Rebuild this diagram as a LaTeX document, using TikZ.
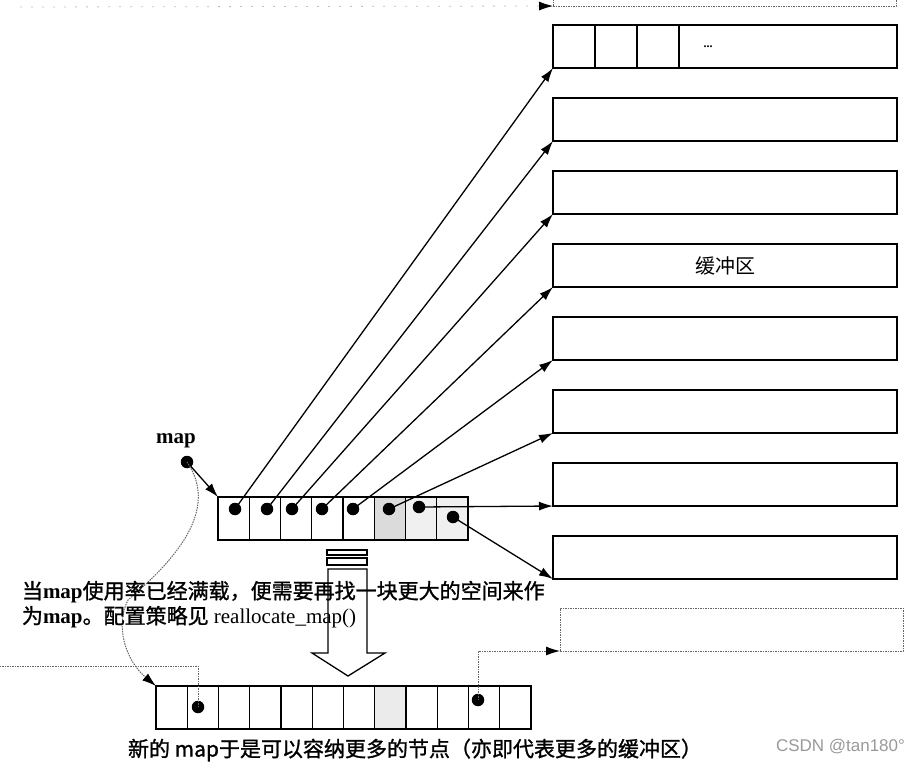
\documentclass[tikz,border=0pt]{standalone}
\usepackage{fontspec}
\setmainfont{Liberation Serif}
\newfontfamily\cj{Noto Sans CJK SC}
\newfontfamily\cjb[FakeBold=1.2]{Noto Sans CJK SC}
\newfontfamily\wmfont{Liberation Sans}
\usetikzlibrary{arrows.meta,calc}
\begin{document}
\begin{tikzpicture}[x=1pt,y=-1pt,
  every node/.style={inner sep=0pt,outer sep=0pt},
  solid line/.style={line width=1.5pt},
  buf/.style={draw,line width=1.5pt,minimum width=344pt,minimum height=43pt,anchor=north west},
  dbuf/.style={draw=black!60,line width=1pt,dash pattern=on 1.5pt off 1pt,minimum width=343pt,minimum height=43pt,anchor=north west},
  cellbox/.style={draw,line width=1.4pt,minimum width=31.25pt,minimum height=43pt,anchor=north west},
  dotmark/.style={circle,fill=black,minimum size=12.5pt},
  arr/.style={line width=1.3pt,-{Latex[length=14pt,width=9pt]}},
  dotline/.style={draw=black!60,line width=1pt,dash pattern=on 1.5pt off 1pt},
  dotarr/.style={dotline,-{Latex[length=14pt,width=9pt,color=black]}},
  txt/.style={font=\fontsize{21}{21}\selectfont,anchor=west},
]
\useasboundingbox (0,0) rectangle (908,764);
\begin{scope}
\clip (0,0) rectangle (908,764);
% top dotted buffer and faint pointer
\node[dbuf] (b0) at (553,-37) {};
\coordinate (topleft) at (20,7);
\draw[draw=black!25,line width=0.8pt,dash pattern=on 2pt off 9pt,-{Latex[length=14pt,width=9pt,color=black]}] (topleft) -- (b0.south west);
\end{scope}

% buffers
\node[buf] (b1) at (553,25) {};
\foreach \dx in {42,84,126}{\draw[solid line] ([xshift=\dx pt]b1.north west) -- ([xshift=\dx pt]b1.south west);}
\node[font=\bfseries\fontsize{12}{12}\selectfont] (ell) at (708,47) {...};
\node[buf] (b2) at (553,98) {};
\node[buf] (b3) at (553,171) {};
\node[buf,font=\cj\fontsize{20}{20}\selectfont] (b4) at (553,244) {缓冲区};
\node[buf] (b5) at (553,317) {};
\node[buf] (b6) at (553,390) {};
\node[buf] (b7) at (553,463) {};
\node[buf] (b8) at (553,536) {};
\node[dbuf] (b9) at (560,608) {};

% map array
\foreach \i/\f in {1/white,2/white,3/white,4/white,5/white,6/black!14,7/black!6,8/black!6}{
  \node[cellbox,fill=\f] (m\i) at ({218+31.25*(\i-1)},497) {};
}
\node[dotmark] (d1) at (235,509) {};
\node[dotmark] (d2) at (267,509) {};
\node[dotmark] (d3) at (292,509) {};
\node[dotmark] (d4) at (322,509) {};
\node[dotmark] (d5) at (353,509) {};
\node[dotmark] (d6) at (389,509) {};
\node[dotmark] (d7) at (419,507) {};
\node[dotmark] (d8) at (453,517) {};
\draw[arr] (d1.center) -- (b1.south west);
\draw[arr] (d2.center) -- (b2.south west);
\draw[arr] (d3.center) -- (b3.south west);
\draw[arr] (d4.center) -- (b4.south west);
\draw[arr] (d5.center) -- (b5.south west);
\draw[arr] (d6.center) -- (b6.south west);
\draw[arr] (d7.center) -- (b7.south west);
\draw[arr] (d8.center) -- (b8.south west);

% map label
\node[font=\bfseries\fontsize{21}{21}\selectfont] (maplabel) at (176,441) {map};
\node[dotmark] (mapdot) at (187,462) {};
\draw[arr] (mapdot.center) -- (m1.north west);

% new map array
\foreach \i/\f in {1/white,2/white,3/white,4/white,5/white,6/white,7/white,8/black!8,9/white,10/white,11/white,12/white}{
  \node[cellbox,fill=\f] (n\i) at ({156+31.25*(\i-1)},686) {};
}
\node[dotmark] (e2) at (198,707) {};
\node[dotmark] (e11) at (478,700) {};
\coordinate (leftend) at (0,666);
\draw[dotline] (e2.center) |- (leftend);
\draw[dotarr] (e11.center) |- (b9.south west);

% curved dotted arrow
\draw[dotarr] (mapdot.center) .. controls (220,510) and (175,560) .. (128,600)
  .. controls (115,625) and (125,660) .. (n1.north west);

% big down arrow
\draw[line width=1.3pt] (327,550) rectangle (367,555);
\draw[line width=1.3pt] (327,558) rectangle (367,565);
\draw[line width=1.3pt] (328,569) -- (328,653) -- (312,653) -- (348,676) -- (385,653) -- (367,653) -- (367,569) -- cycle;

% texts
\node[txt] (t1) at (22,592) {{\cjb 当}\textbf{map}{\cjb 使用率已经满载，便需要再找一块更大的空间来作}};
\node[txt] (t2) at (22,617) {{\cjb 为}\textbf{map}{\cjb 。配置策略见} reallocate\_map()};
\node[txt,font=\cjb\fontsize{21}{21}\selectfont] (t3) at (128,750) {新的 map于是可以容纳更多的节点（亦即代表更多的缓冲区）};
\node[anchor=west,font=\wmfont\fontsize{17}{17}\selectfont,text=black!40] (wm) at (776,747) {CSDN @tan180°};
\end{tikzpicture}
\end{document}
